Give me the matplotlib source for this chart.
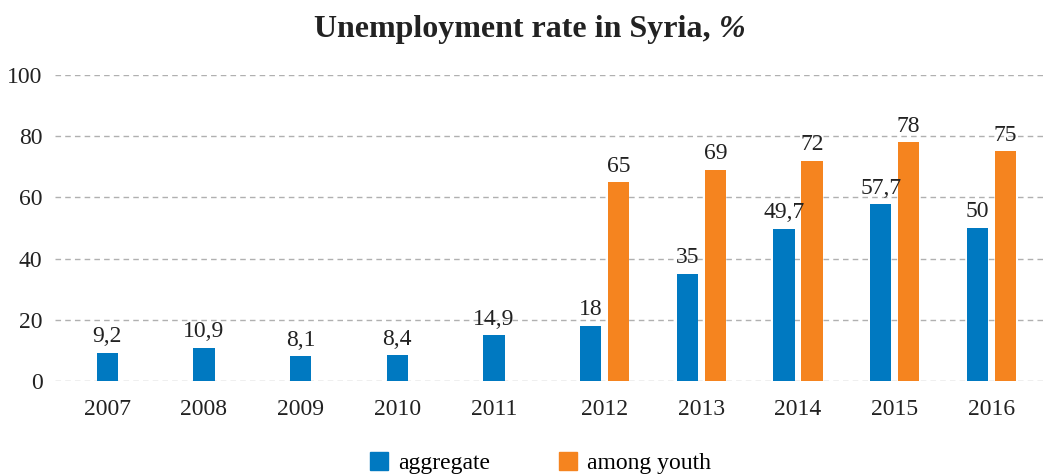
import numpy as np
import matplotlib
matplotlib.use("Agg")
import matplotlib.pyplot as plt
from matplotlib.patches import Patch

plt.rcParams['font.family'] = ['Liberation Serif', 'DejaVu Serif']

# Données
years = ['2007', '2008', '2009', '2010', '2011', '2012', '2013', '2014', '2015', '2016']
aggregate = [9.2, 10.9, 8.1, 8.4, 14.9, 18, 35, 49.7, 57.7, 50]
youth = [None, None, None, None, None, 65, 69, 72, 78, 75]

blue = '#0079c1'
orange = '#f5841f'
txt = '#222222'
fs = 17

def fmt(v):
    return ('%g' % v).replace('.', ',')

fig = plt.figure(figsize=(10.46, 4.76), dpi=100)
ax = fig.add_axes([0.0526, 0.1996, 0.9474, 0.6429])

spacing = 0.29
width = 0.22
x = np.arange(len(years), dtype=float)
has_youth = np.array([v is not None for v in youth])

ax.bar(x, aggregate, width=width, color=blue, zorder=3)
xy = [xi + spacing for xi, v in zip(x, youth) if v is not None]
yv = [v for v in youth if v is not None]
ax.bar(xy, yv, width=width, color=orange, zorder=3)

for xi, v in zip(x, aggregate):
    ax.annotate(fmt(v), (xi, v), xytext=(0, 4), textcoords='offset points',
                ha='center', va='bottom', fontsize=fs, color=txt)
for xi, v in zip(xy, yv):
    ax.annotate(fmt(v), (xi, v), xytext=(0, 4), textcoords='offset points',
                ha='center', va='bottom', fontsize=fs, color=txt)

# étiquettes centrées sous les paires de barres
tick_pos = x + np.where(has_youth, spacing / 2, 0.0)
ax.set_xticks(tick_pos)
ax.set_xticklabels(years, fontsize=fs, color=txt)
ax.set_yticks(range(0, 101, 20))
ax.set_yticklabels([str(t) for t in range(0, 101, 20)], fontsize=fs, color=txt)
ax.tick_params(axis='both', length=0)
ax.tick_params(axis='x', pad=13)
ax.tick_params(axis='y', pad=9)

ax.set_ylim(0, 100)
ax.set_xlim(-0.54, 9.71)
ax.grid(axis='y', color='#b0b0b0', linestyle=(0, (4, 3)), linewidth=1, zorder=0)
for s in ax.spines.values():
    s.set_visible(False)

# titre : partie droite en italique
t1 = fig.text(0, 0.938, 'Unemployment rate in Syria, ', ha='left', va='center',
              fontsize=23, fontweight='bold', color=txt)
t2 = fig.text(0, 0.938, '%', ha='left', va='center',
              fontsize=23, fontweight='bold', style='italic', color=txt)
r = fig.canvas.get_renderer()
w1 = t1.get_window_extent(r).width / fig.bbox.width
w2 = t2.get_window_extent(r).width / fig.bbox.width
x0 = 530 / 1046 - (w1 + w2) / 2
t1.set_x(x0)
t2.set_x(x0 + w1)

handles = [Patch(color=blue, label='aggregate'), Patch(color=orange, label='among youth')]
fig.legend(handles=handles, loc='center', bbox_to_anchor=(0.517, 0.027), ncol=2,
           frameon=False, fontsize=fs, handlelength=0.75, handleheight=0.75,
           columnspacing=2.9, handletextpad=0.45)

fig.savefig('out.png', dpi=100)
